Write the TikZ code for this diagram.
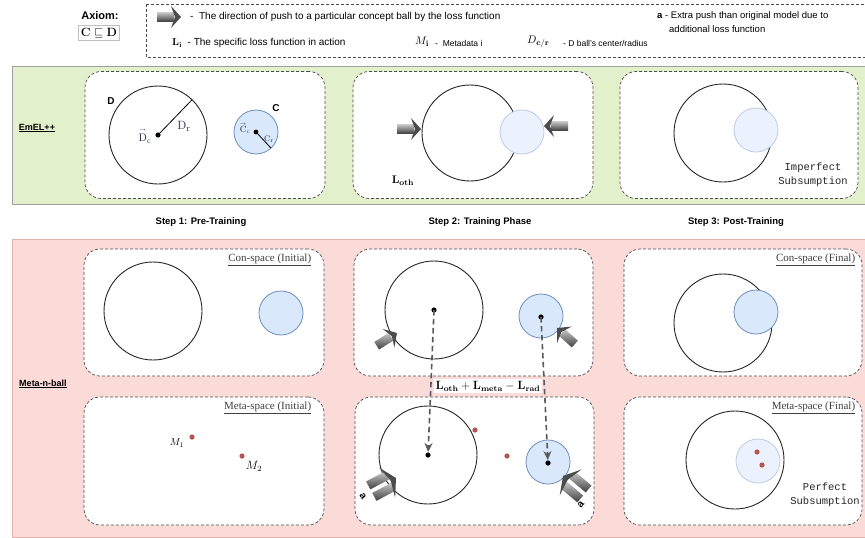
\documentclass[tikz,border=0pt]{standalone}
\usepackage{amsmath,amssymb}
\usepackage[no-math]{fontspec}
\setmainfont{Liberation Sans}
\setmonofont{Liberation Mono}
\newfontfamily\timesfont{Liberation Serif}
\usetikzlibrary{arrows.meta,positioning}

% push arrows (tip at the origin, pointing along +x)
\tikzset{
  pusharrow/.pic={
    \shade[top color=gray!45, bottom color=black!75] (-24,-4.5) rectangle (-7,4.5);
    \fill[black!70] (-10,-11) -- (0,0) -- (-10,11) -- (-6,0) -- cycle;
  },
  pushpair/.pic={
    \foreach \s in {-6.5,6.5} {
      \shade[top color=gray!45, bottom color=black!75] (-28,\s-4.5) rectangle (-7,\s+4.5);
    }
    \fill[black!70] (-10,-17) -- (0,0) -- (-10,17) -- (-6,0) -- cycle;
  },
}

\begin{document}
\begin{tikzpicture}[x=1pt, y=-1pt, >=Stealth,
    panel/.style={draw=black!70, densely dashed, line width=0.7pt, fill=white,
      rounded corners=16pt, minimum width=240pt, minimum height=127pt},
    bigball/.style={draw=black!85, line width=0.9pt},
    cball/.style={draw=cStroke, fill=cFill, line width=0.8pt},
    ghostball/.style={draw=cStroke!45, fill=cFill!55, line width=0.8pt},
    title/.style={font=\timesfont\fontsize{11}{13}\selectfont, text=black!75,
      anchor=north east, inner sep=1pt, xshift=-12pt, yshift=-4pt},
    steplbl/.style={font=\bfseries\fontsize{9.5}{11}\selectfont},
    bandlbl/.style={font=\bfseries\fontsize{9}{11}\selectfont},
    monolbl/.style={font=\ttfamily\fontsize{10.5}{14}\selectfont, align=center, text=black!85},
    legtxt/.style={font=\fontsize{10}{12}\selectfont, anchor=west, inner sep=0pt},
    smalltxt/.style={font=\fontsize{8.5}{10}\selectfont, anchor=west, inner sep=0pt},
    alabel/.style={font=\bfseries\fontsize{10}{12}\selectfont},
    flowarrow/.style={draw=black!65, line width=1.6pt, dash pattern=on 5.5pt off 3.5pt,
      -{Stealth[length=9pt, width=8pt, inset=3pt]}, shorten >=3pt},
  ]
    % Colors
    \definecolor{emelFill}{HTML}{E2F0CB}
    \definecolor{emelEdge}{HTML}{A0A0A0}
    \definecolor{metaFill}{HTML}{FADBD8}
    \definecolor{metaEdge}{HTML}{E3B3AF}
    \definecolor{cFill}{HTML}{DAE8FC}
    \definecolor{cStroke}{HTML}{6C8EBF}
    \definecolor{metaCol}{HTML}{B85450}
    \definecolor{labelCol}{HTML}{1F2D4D}

    \useasboundingbox (0,0) rectangle (865,538);
    \fill[white] (0,0) rectangle (865,538);

    % 1. Legend
    \node[font=\bfseries\fontsize{11}{13}\selectfont] (axiom) at (100,16) {Axiom:};
    \node[draw=black!25, inner sep=2.5pt, font=\fontsize{12}{14}\selectfont] (axbox) at (99,33)
      {$\mathbf{C}\sqsubseteq\mathbf{D}$};
    \draw[densely dashed, black!70, line width=0.6pt] (146,4) rectangle (872,57);
    \pic at (181,17) {pusharrow};
    \node[legtxt] (legpush) at (190,17) {-\ \ The direction of push to a particular concept ball by the loss function};
    \node[legtxt, font=\fontsize{9.5}{11}\selectfont] (lega) at (657,16) {\textbf{a} - Extra push than original model due to};
    \node[legtxt, font=\fontsize{9.5}{11}\selectfont] (lega2) at (669,29) {additional loss function};
    \node[legtxt] (legL) at (172,43) {$\mathbf{L}_{\mathbf{i}}$\ \ - The specific loss function in action};
    \node[legtxt, font=\fontsize{11}{13}\selectfont] (legM) at (415,42) {$M_{\mathbf{i}}$};
    \node[smalltxt] (legMt) at (435,43) {-\ \ Metadata i};
    \node[legtxt, font=\fontsize{11}{13}\selectfont] (legD) at (527,42) {$D_{\mathbf{c/r}}$};
    \node[smalltxt] (legDt) at (563,43) {- D ball's center/radius};

    % 2. EmEL++ band
    \fill[emelFill] (12,66) rectangle (870,204);
    \draw[emelEdge, line width=0.8pt] (12,66) rectangle (870,204);
    \node[bandlbl] (emel) at (37,128) {\underline{EmEL++}};
    \node[panel] (e1) at (205,135) {};
    \node[panel] (e2) at (473,135) {};
    \node[panel, minimum width=238pt] (e3) at (739,135) {};

    % pre-training balls
    \coordinate (Dc) at (158,135);
    \draw[bigball] (Dc) circle (49);
    \draw[line width=0.8pt] (Dc) -- ++(-46:49);
    \fill (Dc) circle (2.6);
    \node[font=\bfseries\fontsize{10}{12}\selectfont] (Dlbl) at (111,101) {D};
    \node[text=labelCol, font=\fontsize{13}{15}\selectfont] (Drlbl) at (184,126) {$\mathrm{D}_{\mathrm{r}}$};
    \node[text=labelCol, font=\fontsize{11}{13}\selectfont, inner sep=0pt] (Dclbl) at (145,136)
      {$\overset{\scriptscriptstyle\rightarrow}{\mathrm{D}}_{\mathrm{c}}$};
    \coordinate (Cc) at (256,132);
    \draw[cball] (Cc) circle (22);
    \draw[line width=0.8pt] (Cc) -- ++(47:22);
    \fill (Cc) circle (2.4);
    \node[font=\bfseries\fontsize{10}{12}\selectfont] (Clbl) at (276,108) {C};
    \node[text=labelCol, font=\fontsize{9}{11}\selectfont, inner sep=0pt] (Cclbl) at (245,128)
      {$\overset{\scriptscriptstyle\rightarrow}{\mathrm{C}}_{\mathrm{c}}$};
    \node[text=labelCol, font=\fontsize{8}{10}\selectfont, inner sep=1pt] (Crlbl) at (269,139) {$\mathrm{C}_{\mathrm{r}}$};

    % training phase
    \draw[bigball] (470,133) circle (48);
    \draw[ghostball] (522,132) circle (22);
    \pic at (421,129) {pusharrow};
    \pic[rotate=180] at (544,126) {pusharrow};
    \node[font=\fontsize{11}{13}\selectfont] (Loth) at (403,181) {$\mathbf{L}_{\mathbf{oth}}$};

    % post-training
    \draw[bigball] (723,133) circle (49);
    \draw[ghostball] (756,130) circle (22);
    \node[monolbl] (imperf) at (813,175) {Imperfect\\Subsumption};

    % steps
    \node[steplbl] (step1) at (201,222) {Step 1: Pre-Training};
    \node[steplbl] (step2) at (480,222) {Step 2: Training Phase};
    \node[steplbl] (step3) at (736,222) {Step 3: Post-Training};

    % 3. Meta-n-ball band
    \fill[metaFill] (12,239) rectangle (870,537);
    \draw[metaEdge, line width=0.8pt] (12,239) rectangle (870,537);
    \node[bandlbl] (mnb) at (43,384) {\underline{Meta-n-ball}};
    \node[panel] (c1) at (204,312.5) {};
    \node[panel, minimum width=239pt] (c2) at (473.5,312.5) {};
    \node[panel, minimum width=238pt] (c3) at (743,312.5) {};
    \node[panel, minimum height=128pt] (m1) at (204,461) {};
    \node[panel, minimum width=239pt, minimum height=128pt] (m2) at (474.5,461) {};
    \node[panel, minimum width=238pt, minimum height=128pt] (m3) at (743,461) {};
    \node[title] (c1t) at (c1.north east) {\underline{Con-space (Initial)}};
    \node[title, xshift=6pt] (c3t) at (c3.north east) {\underline{Con-space (Final)}};
    \node[title] (m1t) at (m1.north east) {\underline{Meta-space (Initial)}};
    \node[title, xshift=6pt] (m3t) at (m3.north east) {\underline{Meta-space (Final)}};

    % initial spaces
    \draw[bigball] (153,311) circle (49);
    \draw[cball] (281,313) circle (22);
    \fill[metaCol] (192,437) circle (2.6);
    \fill[metaCol] (242,456) circle (2.6);
    \node[font=\fontsize{10}{12}\selectfont] (M1) at (177,443) {$M_1$};
    \node[font=\fontsize{12}{14}\selectfont] (M2) at (254,466) {$M_2$};

    % training phase, con-space and meta-space
    \coordinate (cD) at (434,310);
    \coordinate (cC) at (541,317);
    \coordinate (mD) at (428,455);
    \coordinate (mC) at (548,463);
    \draw[bigball] (cD) circle (49);
    \draw[cball] (541,316) circle (22);
    \draw[bigball] (mD) circle (49);
    \draw[cball] (548,462) circle (22);
    \foreach \p in {cD, cC, mD, mC} {
        \fill (\p) circle (2.6);
    }
    \fill[metaCol] (475,430) circle (2.6);
    \fill[metaCol] (507,456) circle (2.6);
    \pic[rotate=32] at (397,333) {pusharrow};
    \pic[rotate=138] at (557,328) {pusharrow};
    \pic[rotate=28] at (396,478) {pushpair};
    \pic[rotate=140] at (563,476) {pushpair};
    \node[alabel, rotate=-55] (aL) at (363,496) {a};
    \node[alabel, rotate=50] (aR) at (581,505) {a};
    \draw[flowarrow] (cD) -- (mD);
    \draw[flowarrow] (cC) -- (mC);
    \node[fill=white, inner sep=2pt, font=\fontsize{11.5}{13}\selectfont] (losslbl) at (488,386)
      {$\mathbf{L}_{\mathbf{oth}}+\mathbf{L}_{\mathbf{meta}}-\mathbf{L}_{\mathbf{rad}}$};

    % final spaces
    \draw[bigball] (723,323) circle (49);
    \draw[cball] (756,312) circle (22);
    \draw[bigball] (735,460) circle (49);
    \draw[ghostball] (758,461) circle (22);
    \fill[metaCol] (757,452) circle (2.6);
    \fill[metaCol] (762,465) circle (2.6);
    \node[monolbl] (perf) at (825,495) {Perfect\\Subsumption};
\end{tikzpicture}
\end{document}
